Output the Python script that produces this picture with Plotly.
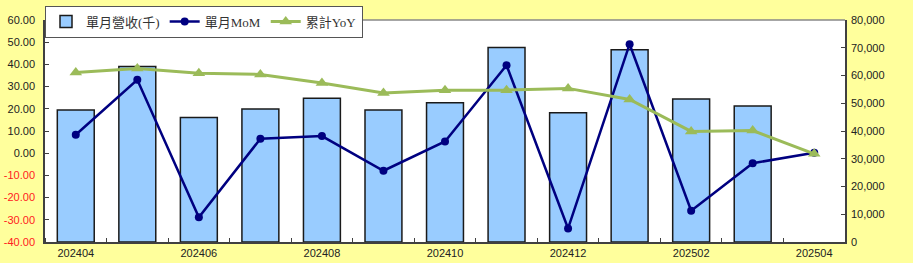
import plotly.graph_objects as go

months = ["202404", "202405", "202406", "202407", "202408", "202409", "202410",
          "202411", "202412", "202501", "202502", "202503", "202504"]
revenue = [47600, 63200, 44900, 47900, 51800, 47600, 50200, 70100, 46600, 69300, 51500, 49000, None]
mom = [8.3, 33.1, -28.9, 6.5, 7.7, -7.9, 5.3, 39.6, -33.9, 49.1, -25.9, -4.5, 0.2]
yoy = [36.3, 38.1, 36.0, 35.5, 31.6, 27.1, 28.3, 28.4, 29.2, 24.2, 9.8, 10.2, -0.3]
left_ticks = [60, 50, 40, 30, 20, 10, 0, -10, -20, -30, -40]
right_ticks = [0, 10000, 20000, 30000, 40000, 50000, 60000, 70000, 80000]

xs = list(range(len(months)))

fig = go.Figure()
fig.add_trace(go.Bar(
    x=xs, y=revenue, name="單月營收(千)", yaxis="y",
    marker=dict(color="#99CCFF", line=dict(color="#1a1a1a", width=1.5)),
))
fig.add_trace(go.Scatter(
    x=xs, y=mom, name="單月MoM", mode="lines+markers", yaxis="y2",
    line=dict(color="#000080", width=2.5),
    marker=dict(symbol="circle", size=8, color="#000080"),
))
fig.add_trace(go.Scatter(
    x=xs, y=yoy, name="累計YoY", mode="lines+markers", yaxis="y2",
    line=dict(color="#9BBB59", width=3),
    marker=dict(symbol="triangle-up", size=11, color="#9BBB59"),
))

def lbl(v):
    s = f"{v:.2f}"
    if v < 0:
        return f"<span style='color:#FF2020'>{s}</span>"
    return s

tick_font = dict(family="Liberation Sans, Arial, sans-serif", size=11, color="#222222")

fig.update_layout(
    width=913, height=263,
    margin=dict(l=45, r=68, t=20, b=21, autoexpand=False),
    paper_bgcolor="#FFFF9C",
    plot_bgcolor="#FFFFFF",
    bargap=0.4,
    showlegend=True,
    legend=dict(
        orientation="h", x=0, y=1.065, xanchor="left", yanchor="top",
        bgcolor="#FFFFFF", bordercolor="#555555", borderwidth=1,
        font=dict(family="Liberation Serif, Noto Sans CJK TC, serif", size=13, color="#333333"),
        itemwidth=30, traceorder="normal",
    ),
    xaxis=dict(
        range=[-0.5, len(months) - 0.5],
        tickvals=xs[::2], ticktext=months[::2],
        ticks="", showgrid=False, zeroline=False, automargin=False,
        showline=True, linecolor="#404040", linewidth=1.5,
        tickfont=tick_font,
        minor=dict(tick0=-0.5, dtick=1, ticks="inside", ticklen=4, tickcolor="#404040", showgrid=False),
    ),
    yaxis=dict(
        range=[0, 80000], tickvals=right_ticks, tickformat=",",
        side="right", automargin=False,
        ticks="inside", ticklen=4, tickcolor="#404040",
        showgrid=False, zeroline=False,
        showline=True, linecolor="#404040", linewidth=1.5,
        tickfont=tick_font, ticklabelstandoff=2,
    ),
    yaxis2=dict(
        range=[-40, 60], tickvals=left_ticks, ticktext=[lbl(v) for v in left_ticks],
        overlaying="y", side="left", automargin=False,
        ticks="inside", ticklen=4, tickcolor="#404040",
        showgrid=False, zeroline=False,
        showline=True, linecolor="#404040", linewidth=1.5,
        tickfont=tick_font, ticklabelstandoff=6,
    ),
    shapes=[dict(type="line", xref="paper", yref="paper", x0=0, x1=1, y0=1, y1=1,
                 line=dict(color="#888888", width=1.5))],
)

fig.write_html("out.html")
